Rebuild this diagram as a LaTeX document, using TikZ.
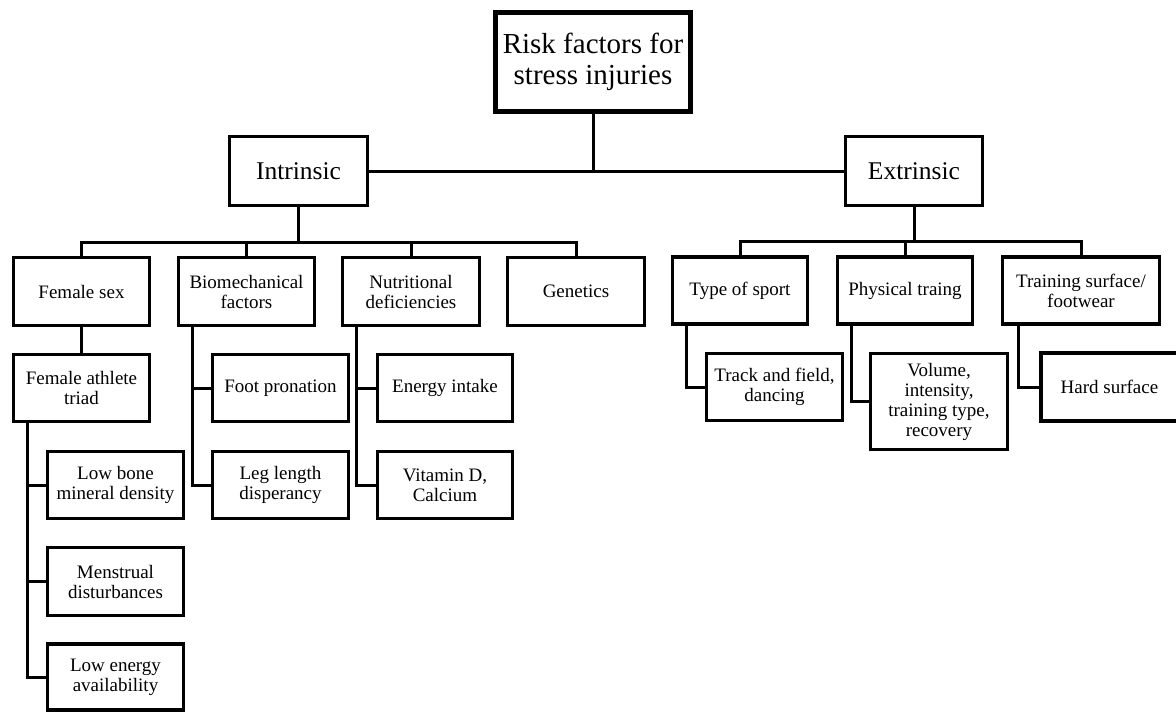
\documentclass[tikz,border=0pt]{standalone}
\usepackage{fontspec}
\setmainfont{Liberation Serif}
\usetikzlibrary{shadows}
\begin{document}
\begin{tikzpicture}[x=1pt,y=-1pt,
  box/.style={draw=black, fill=white, line width=3.2pt, inner sep=0pt, outer sep=0pt,
    align=center, font=\fontsize{19}{20}\selectfont,
    drop shadow={shadow xshift=1.5pt, shadow yshift=-1.5pt, opacity=0.12, fill=black}},
  topbox/.style={box, line width=4.5pt, font=\fontsize{29}{31}\selectfont},
  midbox/.style={box, line width=3.6pt, font=\fontsize{25.5}{28}\selectfont},
  link/.style={line width=3pt, line cap=rect}]
\useasboundingbox (0,0) rectangle (1176,712);
\fill[white] (0,0) rectangle (1176,712);

% root and the two main groups
\node[topbox, minimum width=195, minimum height=99] (root) at (593,62) {Risk factors for\\stress injuries};
\node[midbox, minimum width=138, minimum height=69] (intr) at (298.5,171) {Intrinsic};
\node[midbox, minimum width=137, minimum height=69] (extr) at (914,171) {Extrinsic};

% intrinsic factors
\node[box, minimum width=136, minimum height=68] (fem) at (81.5,291.5) {Female sex};
\node[box, minimum width=136, minimum height=68] (bio) at (246.5,291.5) {Biomechanical\\factors};
\node[box, minimum width=137, minimum height=68] (nut) at (411,291.5) {Nutritional\\deficiencies};
\node[box, minimum width=137, minimum height=68] (gen) at (576,291.5) {Genetics};

\node[box, minimum width=136, minimum height=67] (triad) at (81.5,388) {Female athlete\\triad};
\node[box, minimum width=136, minimum height=67] (lbmd) at (115.5,485) {Low bone\\mineral density};
\node[box, minimum width=136, minimum height=68] (menst) at (115.5,581.5) {Menstrual\\disturbances};
\node[box, minimum width=136, minimum height=66] (lea) at (115.5,677) {Low energy\\availability};

\node[box, minimum width=136, minimum height=67] (foot) at (280.5,388) {Foot pronation};
\node[box, minimum width=136, minimum height=67] (leg) at (280.5,485) {Leg length\\disperancy};
\node[box, minimum width=135, minimum height=67] (energy) at (445,388) {Energy intake};
\node[box, minimum width=135, minimum height=67] (vit) at (445,485) {Vitamin D,\\Calcium};

% extrinsic factors
\node[box, minimum width=135, minimum height=67] (sport) at (740,290.5) {Type of sport};
\node[box, minimum width=135, minimum height=67] (phys) at (905,290.5) {Physical traing};
\node[box, minimum width=157, minimum height=67] (surf) at (1081,290.5) {Training surface/\\footwear};

\node[box, minimum width=136, minimum height=67] (track) at (774.5,387) {Track and field,\\dancing};
\node[box, minimum width=137, minimum height=96] (vol) at (939,401.5) {Volume,\\intensity,\\training type,\\recovery};
% this box runs past the right edge of the page
\node[box, minimum width=145, minimum height=68] (hard) at (1113.5,387) {Hard surface\hspace*{8pt}};

% root to main groups
\draw[link] (root.south) -- ++(0,59);
\draw[link] (intr.east) -- (extr.west);

% intrinsic bus
\draw[link] (intr.south) -- ++(0,37) coordinate (ibus);
\draw[link] (fem.north) |- (ibus) -| (gen.north);
\draw[link] (bio.north) -- (bio.north |- ibus);
\draw[link] (nut.north) -- (nut.north |- ibus);

% extrinsic bus
\draw[link] (extr.south) -- ++(0,36) coordinate (ebus);
\draw[link] (sport.north) |- (ebus) -| (surf.north);
\draw[link] (phys.north) -- (phys.north |- ebus);

% female sex branch
\draw[link] (fem.south) -- (triad.north);
\coordinate (tl) at ([xshift=14pt]triad.south west);
\draw[link] (tl) |- (lea.west);
\draw[link] (lbmd.west) -- (lbmd.west -| tl);
\draw[link] (menst.west) -- (menst.west -| tl);

% biomechanical branch
\coordinate (bl) at ([xshift=14pt]bio.south west);
\draw[link] (bl) |- (leg.west);
\draw[link] (foot.west) -- (foot.west -| bl);

% nutritional branch
\coordinate (nl) at ([xshift=14pt]nut.south west);
\draw[link] (nl) |- (vit.west);
\draw[link] (energy.west) -- (energy.west -| nl);

% extrinsic sub-items
\draw[link] ([xshift=14pt]sport.south west) |- (track.west);
\draw[link] ([xshift=14pt]phys.south west) |- (vol.west);
\draw[link] ([xshift=16pt]surf.south west) |- (hard.west);
\end{tikzpicture}
\end{document}
